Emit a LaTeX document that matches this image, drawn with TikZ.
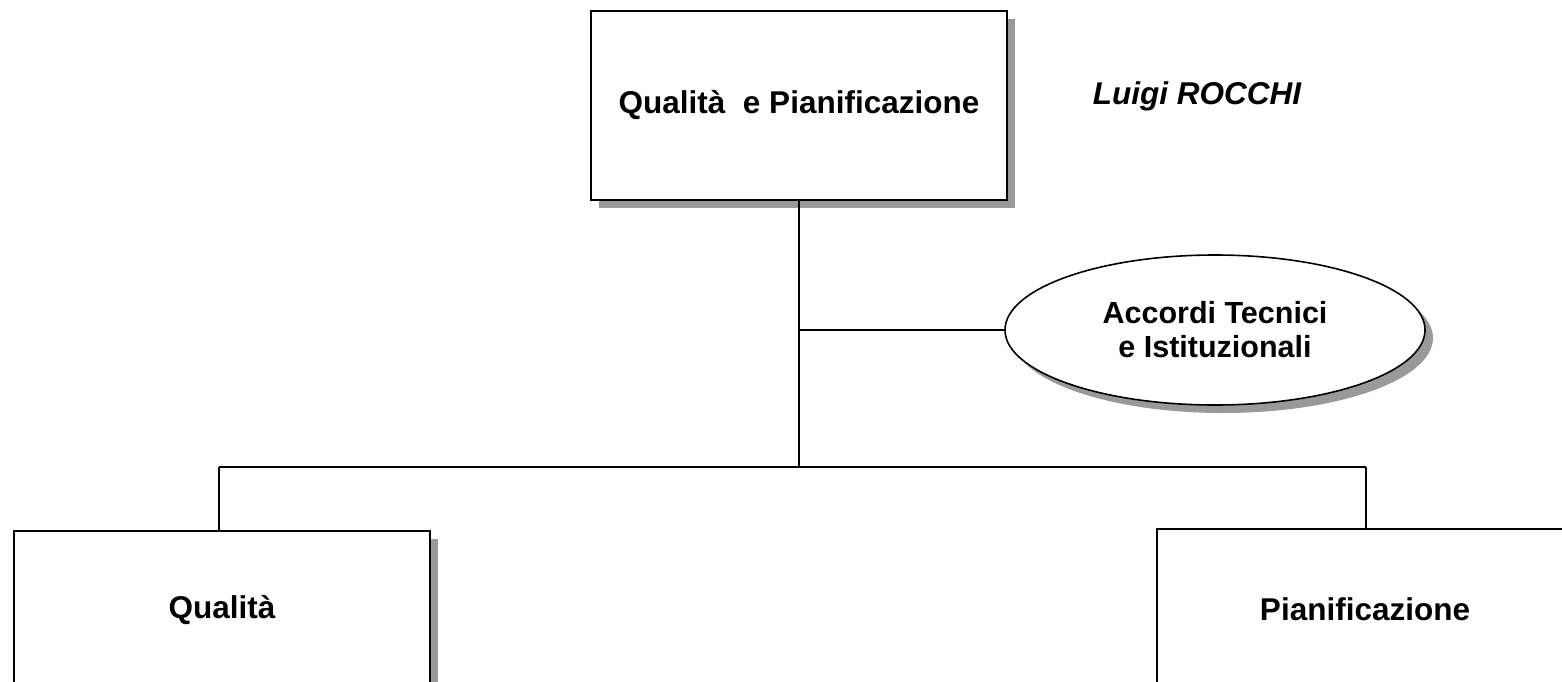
\documentclass[tikz,border=0pt]{standalone}
\usepackage{fontspec}
\setmainfont{Liberation Sans}
\usetikzlibrary{shapes.geometric,shadows}
\begin{document}
\begin{tikzpicture}[x=1pt,y=-1pt,
  shad/.style={drop shadow={shadow xshift=8pt,shadow yshift=-8pt,fill=black!40,opacity=1}},
  orgbox/.style={draw=black,line width=2pt,fill=white,shad,inner sep=0pt,
    minimum width=416pt,font=\fontsize{31.5}{34}\selectfont\bfseries},
  orgell/.style={ellipse,draw=black,line width=1.6pt,fill=white,shad,inner sep=0pt,
    minimum width=420pt,minimum height=150pt,align=center,
    font=\fontsize{30.5}{34}\selectfont\bfseries},
  conn/.style={draw=black,line width=2pt}]
\clip (0,0) rectangle (1562,682);
\useasboundingbox (0,0) rectangle (1562,682);
\fill[white] (0,0) rectangle (1562,682);
\coordinate (j) at (799,467);
\coordinate (lj) at (219,467);
\coordinate (rj) at (1366,467);
\node[orgbox,minimum height=189pt] (top) at (799,105.5) {Qualità\ \ e Pianificazione};
\node[orgell] (ell) at (1215,330) {Accordi Tecnici\\e Istituzionali};
\node[orgbox,minimum height=158pt] (left) at (222,610) {Qualità};
\node[orgbox,minimum height=160pt] (right) at (1365,609) {Pianificazione};
\node[font=\fontsize{31.5}{34}\selectfont\bfseries\itshape] (name) at (1197,96) {Luigi ROCCHI};
\draw[conn] (top.south) -- (j);
\draw[conn] (top.south |- ell.west) -- (ell.west);
\draw[conn] (lj) -- (rj);
\draw[conn] (lj) -- (lj |- left.north);
\draw[conn] (rj) -- (rj |- right.north);
\end{tikzpicture}
\end{document}
